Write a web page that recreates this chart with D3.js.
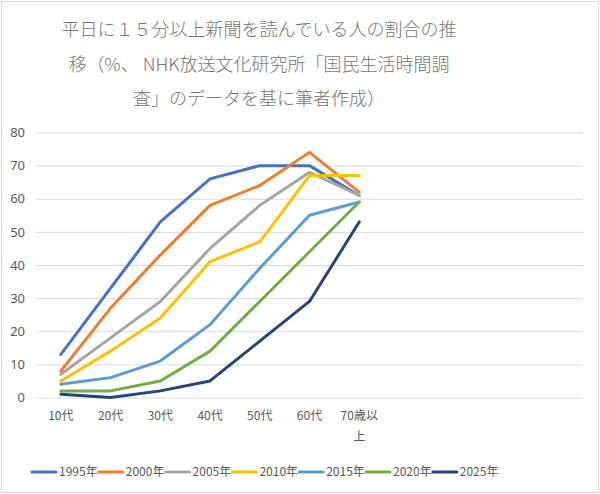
<!DOCTYPE html>
<html>
<head>
<meta charset="utf-8">
<script src="https://cdn.jsdelivr.net/npm/d3@7"></script>
<style>
  body { margin: 0; background: #fff; }
  text { font-family: "Noto Sans CJK JP", "Noto Sans", sans-serif; }
</style>
</head>
<body>
<div class="lineChart"></div>
<script>
var titleLines = [
  '平日に１５分以上新聞を読んでいる人の割合の推',
  '移（%、 NHK放送文化研究所「国民生活時間調',
  '査」のデータを基に筆者作成）'
];
var categories = ['10代', '20代', '30代', '40代', '50代', '60代', '70歳以上'];
var slotCount = 11; // plot area leaves room for empty slots on the right
var years = ['1995年', '2000年', '2005年', '2010年', '2015年', '2020年', '2025年'];
var colors = ['#4472C4', '#ED7D31', '#A5A5A5', '#FFC000', '#5B9BD5', '#70AD47', '#264478'];
var v1995 = [13, 33, 53, 66, 70, 70, 61];
var v2000 = [8, 27, 43, 58, 64, 74, 62];
var v2005 = [7, 18, 29, 45, 58, 68, 61];
var v2010 = [5, 14, 24, 41, 47, 67, 67];
var v2015 = [4, 6, 11, 22, 39, 55, 59];
var v2020 = [2, 2, 5, 14, 29, 44, 59];
var v2025 = [1, 0, 2, 5, 17, 29, 53];
var yTicks = [0, 10, 20, 30, 40, 50, 60, 70, 80];

var series = [v1995, v2000, v2005, v2010, v2015, v2020, v2025];
var width = 600, height = 494;

var svg = d3.select('.lineChart')
            .append('svg')
            .attr('width', width)
            .attr('height', height);

// outer frame
svg.append('rect')
   .attr('x', 1.5).attr('y', 1.5)
   .attr('width', width - 3).attr('height', height - 3)
   .attr('fill', '#fff')
   .attr('stroke', '#d9d9d9');

// title
svg.append('g').selectAll('text')
   .data(titleLines)
   .enter().append('text')
   .attr('x', 259)
   .attr('y', function(d, i) { return 36 + i * 34.5; })
   .attr('text-anchor', 'middle')
   .attr('fill', '#767676')
   .style('font-size', '18px')
   .style('font-weight', 300)
   .text(function(d) { return d; });

var plotLeft = 36, plotRight = 583, plotTop = 132.5, plotBottom = 397.5;

var xscale = d3.scaleBand()
               .domain(d3.range(slotCount))
               .range([plotLeft, plotRight]);

var yscale = d3.scaleLinear()
               .domain([0, 80])
               .range([plotBottom, plotTop]);

// y axis with gridlines
var y_axis = d3.axisLeft()
               .scale(yscale)
               .tickValues(yTicks)
               .tickSize(-(plotRight - plotLeft))
               .tickPadding(11);

var gy = svg.append('g')
            .attr('transform', 'translate(' + plotLeft + ',0)')
            .call(y_axis);
gy.select('.domain').remove();
gy.selectAll('line').attr('stroke', '#d9d9d9');
gy.selectAll('text')
  .attr('fill', '#595959')
  .style('font-size', '13px')
  .style('font-family', '"Noto Sans", sans-serif');

// x axis labels
var x_axis = d3.axisBottom()
               .scale(xscale)
               .tickSize(0)
               .tickPadding(14)
               .tickFormat(function(i) { return categories[i] || ''; });

var gx = svg.append('g')
            .attr('transform', 'translate(0,' + plotBottom + ')')
            .call(x_axis);
gx.select('.domain').remove();
gx.selectAll('text')
  .attr('fill', '#595959')
  .style('font-size', '12px')
  .each(function() {
    // character wrap to the slot width
    var t = d3.select(this), chars = t.text().split(''), lines = [], cur = '';
    var maxW = xscale.bandwidth() * 0.85;
    t.text('');
    var probe = t.append('tspan');
    chars.forEach(function(c) {
      probe.text(cur + c);
      if (cur && probe.node().getComputedTextLength() > maxW) {
        lines.push(cur); cur = c;
      } else { cur = cur + c; }
    });
    if (cur) lines.push(cur);
    probe.remove();
    var y0 = t.attr('y'), dy0 = parseFloat(t.attr('dy'));
    lines.forEach(function(l, i) {
      t.append('tspan')
       .attr('x', 0)
       .attr('y', y0)
       .attr('dy', (dy0 + i * 21 / 12) + 'em')
       .text(l);
    });
  });

// lines
var line = d3.line()
             .x(function(d, i) { return xscale(i) + xscale.bandwidth() / 2; })
             .y(function(d) { return yscale(d); });

svg.append('g').selectAll('path')
   .data(series)
   .enter().append('path')
   .attr('d', line)
   .attr('fill', 'none')
   .attr('stroke', function(d, i) { return colors[i]; })
   .attr('stroke-width', 3)
   .attr('stroke-linejoin', 'round')
   .attr('stroke-linecap', 'round');

// legend
var lg = svg.append('g').selectAll('g')
            .data(years)
            .enter().append('g')
            .attr('transform', function(d, i) { return 'translate(' + (31 + i * 66.8) + ',472)'; });
lg.append('line')
  .attr('x1', 1).attr('x2', 25)
  .attr('stroke', function(d, i) { return colors[i]; })
  .attr('stroke-width', 3)
  .attr('stroke-linecap', 'round');
lg.append('text')
  .attr('x', 28)
  .attr('dy', '0.36em')
  .attr('fill', '#595959')
  .style('font-size', '12px')
  .text(function(d) { return d; });
</script>
</body>
</html>
